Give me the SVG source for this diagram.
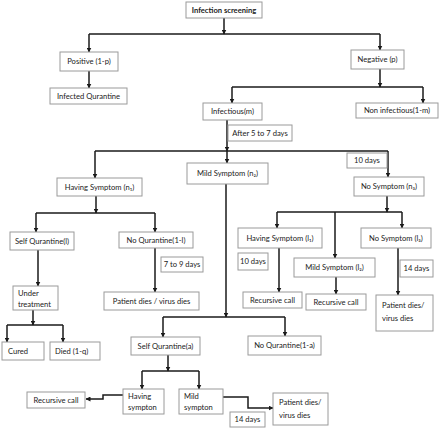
<svg xmlns="http://www.w3.org/2000/svg" width="440" height="428" viewBox="0 0 440 428">
<defs>
<marker id="ah" markerWidth="5" markerHeight="5" refX="4.5" refY="2.5" orient="auto" markerUnits="userSpaceOnUse">
<path d="M0,0 L5,2.5 L0,5 Z" fill="#1a1a1a"/>
</marker>
<style>
.box{fill:#fff;stroke:#9a9a9a;stroke-width:1}
.t{font-family:Lato,"Open Sans","Liberation Sans",sans-serif;font-size:7.6px;fill:#222}
.c{text-anchor:middle}
.b{font-weight:bold}
.ln{fill:none;stroke:#1a1a1a;stroke-width:1.5}
.ar{fill:none;stroke:#1a1a1a;stroke-width:1.5;marker-end:url(#ah)}
</style>
</defs>
<rect width="440" height="428" fill="#fff"/>
<g id="connectors">
<path class="ar" d="M224,18 V34"/>
<path class="ln" d="M89,34 H380"/>
<path class="ar" d="M89,34 V52"/>
<path class="ar" d="M380,34 V50"/>
<path class="ar" d="M89,71 V88"/>
<path class="ar" d="M380,69 V87"/>
<path class="ln" d="M232,87 H423"/>
<path class="ar" d="M232,87 V103"/>
<path class="ar" d="M423,87 V103"/>
<path class="ar" d="M227,120 V151"/>
<path class="ln" d="M95,151 H388"/>
<path class="ar" d="M95,151 V178"/>
<path class="ar" d="M227,151 V163"/>
<path class="ar" d="M388,151 V177"/>
<path class="ar" d="M96,196 V213"/>
<path class="ln" d="M36,213 H155"/>
<path class="ar" d="M36,213 V232"/>
<path class="ar" d="M155,213 V232"/>
<path class="ar" d="M38,250 V286"/>
<path class="ar" d="M33,310 V325"/>
<path class="ln" d="M7,325 H63"/>
<path class="ar" d="M7,325 V342"/>
<path class="ar" d="M63,325 V342"/>
<path class="ar" d="M155,248 V292"/>
<path class="ar" d="M226,184 V317"/>
<path class="ln" d="M163,317 H285"/>
<path class="ar" d="M163,317 V337"/>
<path class="ar" d="M285,317 V336"/>
<path class="ar" d="M387,196 V212"/>
<path class="ln" d="M277,212 H402"/>
<path class="ar" d="M277,212 V228"/>
<path class="ar" d="M402,212 V228"/>
<path class="ar" d="M335,212 V258"/>
<path class="ar" d="M279,248 V292"/>
<path class="ar" d="M336,277 V294"/>
<path class="ar" d="M398,248 V295"/>
<path class="ar" d="M168,355 V371"/>
<path class="ln" d="M142,371 H199"/>
<path class="ar" d="M142,371 V389"/>
<path class="ar" d="M199,371 V389"/>
<path class="ar" d="M123,395 H103 V399 H86"/>
<path class="ar" d="M223,397 H248 V408 H273"/>
</g>
<g id="screening"><rect class="box" x="186" y="2" width="76" height="16"/><text class="t c b" x="224" y="12.7">Infection screening</text></g>
<g id="positive"><rect class="box" x="60" y="52" width="58" height="19"/><text class="t c" x="89" y="64.2">Positive (1-p)</text></g>
<g id="infected-quarantine"><rect class="box" x="50" y="88" width="77" height="16"/><text class="t c" x="88.5" y="98.7">Infected Qurantine</text></g>
<g id="negative"><rect class="box" x="351" y="50" width="53" height="19"/><text class="t c" x="377.5" y="62.2">Negative (p)</text></g>
<g id="infectious"><rect class="box" x="203" y="103" width="59" height="17"/><text class="t c" x="232.5" y="114.2">Infectious(m)</text></g>
<g id="non-infectious"><rect class="box" x="356" y="103" width="82" height="15"/><text class="t c" x="397" y="113.2">Non infectious(1-m)</text></g>
<g id="label-5-7"><rect class="box" x="228" y="125" width="64" height="16"/><text class="t c" x="260" y="135.7">After 5 to 7 days</text></g>
<g id="having-n1"><rect class="box" x="57" y="178" width="85" height="18"/><text class="t c" x="99.5" y="189.7">Having Symptom (n₁)</text></g>
<g id="mild-n2"><rect class="box" x="187" y="163" width="81" height="21"/><text class="t c" x="227.5" y="176.2">Mild Symptom (n₂)</text></g>
<g id="label-10a"><rect class="box" x="347" y="153" width="40" height="15"/><text class="t c" x="367" y="163.2">10 days</text></g>
<g id="no-n3"><rect class="box" x="354" y="177" width="70" height="19"/><text class="t c" x="389" y="189.2">No Symptom (n₃)</text></g>
<g id="self-l"><rect class="box" x="10" y="232" width="64" height="18"/><text class="t c" x="42" y="243.7">Self Qurantine(l)</text></g>
<g id="no-l"><rect class="box" x="119" y="232" width="74" height="16"/><text class="t c" x="156" y="242.7">No Qurantine(1-l)</text></g>
<g id="label-7-9"><rect class="box" x="161" y="257" width="42" height="15"/><text class="t c" x="182" y="267.2">7 to 9 days</text></g>
<g id="under-treatment"><rect class="box" x="13" y="286" width="45" height="24"/><text class="t" x="18" y="296">Under</text><text class="t" x="18" y="306.5">treatment</text></g>
<g id="cured"><rect class="box" x="2" y="342" width="42" height="18"/><text class="t" x="8" y="353.5">Cured</text></g>
<g id="died"><rect class="box" x="50" y="342" width="50" height="18"/><text class="t" x="55" y="353.7">Died  (1-q)</text></g>
<g id="patient-dies-1"><rect class="box" x="104" y="292" width="95" height="18"/><text class="t c" x="151.5" y="303.7">Patient dies  /  virus dies</text></g>
<g id="having-l1"><rect class="box" x="238" y="228" width="84" height="20"/><text class="t c" x="280" y="240.7">Having Symptom (l₁)</text></g>
<g id="no-l3"><rect class="box" x="361" y="228" width="70" height="20"/><text class="t c" x="396" y="240.7">No Symptom (l₃)</text></g>
<g id="mild-l2"><rect class="box" x="294" y="258" width="81" height="19"/><text class="t c" x="334.5" y="270.2">Mild Symptom (l₂)</text></g>
<g id="label-10b"><rect class="box" x="238" y="253" width="30" height="17"/><text class="t c" x="253" y="264.2">10 days</text></g>
<g id="label-14a"><rect class="box" x="400" y="260" width="33" height="17"/><text class="t c" x="416.5" y="271.2">14 days</text></g>
<g id="recursive-1"><rect class="box" x="243" y="292" width="59" height="16"/><text class="t c" x="272.5" y="302.7">Recursive call</text></g>
<g id="recursive-2"><rect class="box" x="306" y="294" width="60" height="16"/><text class="t c" x="336" y="304.7">Recursive call</text></g>
<g id="patient-dies-2"><rect class="box" x="376" y="295" width="57" height="36"/><text class="t" x="382" y="308">Patient dies/</text><text class="t" x="382" y="321">virus dies</text></g>
<g id="self-a"><rect class="box" x="131" y="337" width="69" height="18"/><text class="t c" x="165.5" y="348.7">Self Qurantine(a)</text></g>
<g id="no-a"><rect class="box" x="248" y="336" width="73" height="19"/><text class="t c" x="284.5" y="348.2">No Qurantine(1-a)</text></g>
<g id="having-sympton"><rect class="box" x="123" y="389" width="41" height="25"/><text class="t" x="128" y="399">Having</text><text class="t" x="128" y="410">sympton</text></g>
<g id="mild-sympton"><rect class="box" x="179" y="389" width="44" height="25"/><text class="t" x="184" y="399">Mild</text><text class="t" x="184" y="410">sympton</text></g>
<g id="recursive-3"><rect class="box" x="27" y="392" width="58" height="16"/><text class="t c" x="56" y="402.7">Recursive call</text></g>
<g id="patient-dies-3"><rect class="box" x="273" y="393" width="55" height="32"/><text class="t" x="279" y="405">Patient dies/</text><text class="t" x="279" y="418">virus dies</text></g>
<g id="label-14b"><rect class="box" x="230" y="412" width="35" height="15"/><text class="t c" x="247.5" y="422.2">14 days</text></g>
</svg>
